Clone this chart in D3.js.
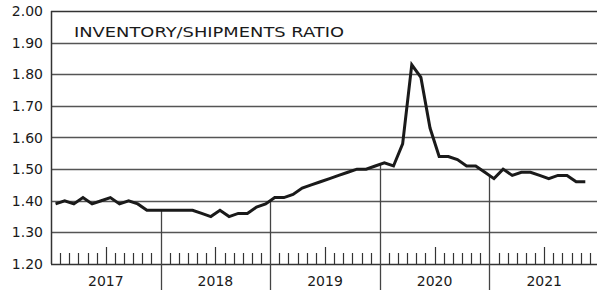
<!DOCTYPE html>
<html>
<head>
<meta charset="utf-8">
<script src="https://cdn.jsdelivr.net/npm/d3@7"></script>
<style>
  body { margin: 0; background: #fff; }
  text { font-family: "DejaVu Sans", sans-serif; fill: #1a1a1a; }
</style>
</head>
<body>
<script>
var width = 597,
    height = 290;

// monthly ratio, one array per year
var years = ["2017", "2018", "2019", "2020", "2021"];
var v2017 = [1.39, 1.40, 1.39, 1.41, 1.39, 1.40, 1.41, 1.39, 1.40, 1.39, 1.37, 1.37];
var v2018 = [1.37, 1.37, 1.37, 1.37, 1.36, 1.35, 1.37, 1.35, 1.36, 1.36, 1.38, 1.39];
var v2019 = [1.41, 1.41, 1.42, 1.44, 1.45, 1.46, 1.47, 1.48, 1.49, 1.50, 1.50, 1.51];
var v2020 = [1.52, 1.51, 1.58, 1.83, 1.79, 1.63, 1.54, 1.54, 1.53, 1.51, 1.51, 1.49];
var v2021 = [1.47, 1.50, 1.48, 1.49, 1.49, 1.48, 1.47, 1.48, 1.48, 1.46, 1.46];
var yTicks = [1.20, 1.30, 1.40, 1.50, 1.60, 1.70, 1.80, 1.90, 2.00];
var title = "INVENTORY/SHIPMENTS RATIO";

var values = v2017.concat(v2018, v2019, v2020, v2021);

var plotLeft = 51, plotRight = 599, plotTop = 11, plotBottom = 264;

var x = d3.scaleLinear().domain([0, years.length * 12]).range([plotLeft, plotRight]);
var y = d3.scaleLinear().domain([1.2, 2.0]).range([plotBottom, plotTop]);

var svg = d3.select("body").append("svg")
    .attr("width", width)
    .attr("height", height);

// horizontal grid
svg.append("g")
  .selectAll("line")
  .data(yTicks)
  .enter().append("line")
    .attr("x1", plotLeft)
    .attr("x2", width)
    .attr("y1", function(d) { return Math.round(y(d)) + 0.5; })
    .attr("y2", function(d) { return Math.round(y(d)) + 0.5; })
    .attr("stroke", function(d) { return (d === 1.2 || d === 2.0) ? "#333" : "#555"; })
    .attr("stroke-width", 1.3);

// left border
svg.append("line")
    .attr("x1", plotLeft + 0.5).attr("x2", plotLeft + 0.5)
    .attr("y1", y(2.0)).attr("y2", y(1.2))
    .attr("stroke", "#333").attr("stroke-width", 1.5);

// y labels
svg.append("g")
  .selectAll("text")
  .data(yTicks)
  .enter().append("text")
    .attr("x", 43)
    .attr("y", function(d) { return y(d) + 5; })
    .attr("text-anchor", "end")
    .style("font-size", "14px")
    .text(function(d) { return d3.format(".2f")(d); });

// month ticks, taller one at mid-year
var ticks = d3.range(0, years.length * 12).filter(function(m) { return m % 12 !== 0; });
svg.append("g")
  .selectAll("line")
  .data(ticks)
  .enter().append("line")
    .attr("x1", function(d) { return Math.round(x(d)) + 0.5; })
    .attr("x2", function(d) { return Math.round(x(d)) + 0.5; })
    .attr("y1", plotBottom)
    .attr("y2", function(d) { return d % 12 === 6 ? plotBottom - 17 : plotBottom - 11; })
    .attr("stroke", "#333")
    .attr("stroke-width", 1.2);

// year dividers: from the line down past the axis
function valueAt(m) {
  // boundary between month m-1 and month m
  return (values[m - 1] + values[m]) / 2;
}
svg.append("g")
  .selectAll("line")
  .data(d3.range(1, years.length))
  .enter().append("line")
    .attr("x1", function(d) { return Math.round(x(d * 12)) + 0.5; })
    .attr("x2", function(d) { return Math.round(x(d * 12)) + 0.5; })
    .attr("y1", function(d) { return y(valueAt(d * 12)); })
    .attr("y2", height)
    .attr("stroke", "#444")
    .attr("stroke-width", 1.3);

// year labels
svg.append("g")
  .selectAll("text")
  .data(years)
  .enter().append("text")
    .attr("x", function(d, i) { return x(i * 12 + 6); })
    .attr("y", 286)
    .attr("text-anchor", "middle")
    .style("font-size", "14px")
    .text(function(d) { return d; });

// the ratio line
var line = d3.line()
    .x(function(d, i) { return x(i + 0.5); })
    .y(function(d) { return y(d); });

svg.append("path")
    .datum(values)
    .attr("d", line)
    .attr("fill", "none")
    .attr("stroke", "#1a1a1a")
    .attr("stroke-width", 3)
    .attr("stroke-linejoin", "miter");

// title
svg.append("text")
    .attr("x", 74)
    .attr("y", 36.5)
    .attr("textLength", 270)
    .attr("lengthAdjust", "spacingAndGlyphs")
    .style("font-size", "14.5px")
    .text(title);
</script>
</body>
</html>
